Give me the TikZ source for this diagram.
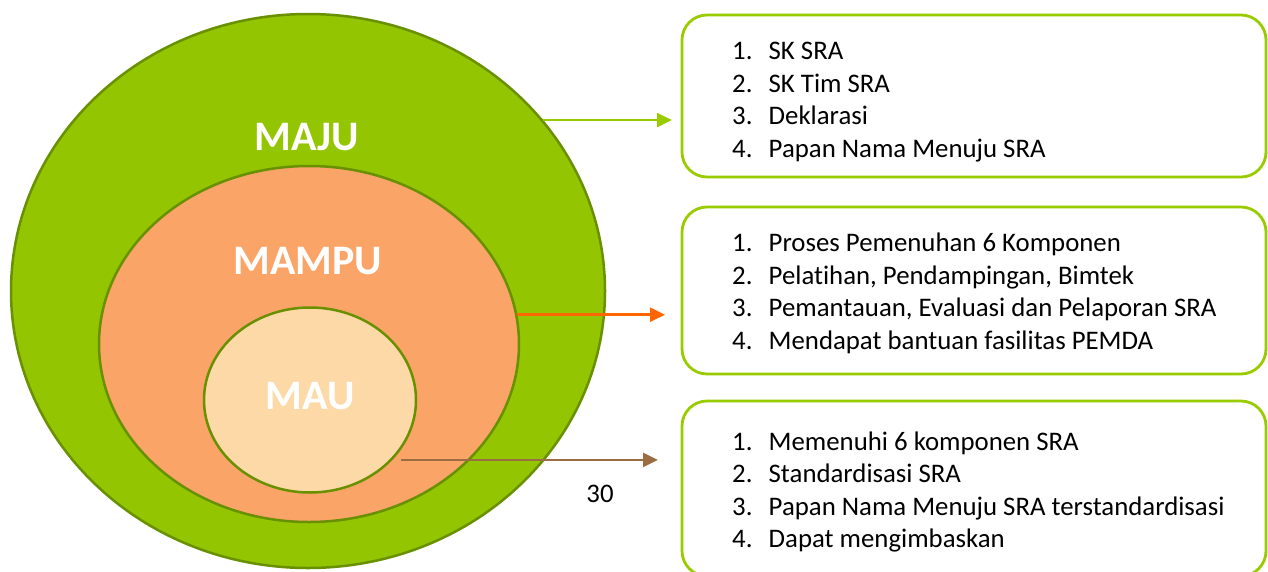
\documentclass[tikz,border=0pt]{standalone}
\usepackage{fontspec}
\setmainfont{Carlito}[Ligatures=NoCommon]
\usetikzlibrary{shapes.geometric,arrows.meta}
\definecolor{hijau}{RGB}{147,197,0}
\definecolor{tepi}{RGB}{104,144,0}
\definecolor{jingga}{RGB}{251,164,104}
\definecolor{krem}{RGB}{253,217,168}
\definecolor{kotakhijau}{RGB}{153,204,0}
\definecolor{oranye}{RGB}{255,102,0}
\definecolor{coklat}{RGB}{156,108,66}
\newcommand{\daftar}[4]{\begin{tabular}{@{}p{36.5pt}@{}l@{}}1. & #1\\2. & #2\\3. & #3\\4. & #4\end{tabular}}
\begin{document}
\begin{tikzpicture}[x=1pt,y=-1pt,
  lingkar/.style={draw=tepi,line width=2.5pt,ellipse,inner sep=0pt},
  judul/.style={text=white,font=\fontsize{42}{50}\selectfont\bfseries},
  kotak/.style={draw=kotakhijau,line width=2.8pt,rounded corners=25pt,minimum width=584pt,inner sep=0pt},
  isi/.style={anchor=west,inner sep=0pt,font=\fontsize{26.8}{32.5}\selectfont},
  panah/.style={->,>={Triangle[length=15pt,width=14pt]},line width=2.5pt}]
\useasboundingbox (0,0) rectangle (1268,571);
\node[lingkar,fill=hijau,minimum width=594pt,minimum height=554pt] (E0) at (308,291) {};
\node[lingkar,fill=jingga,minimum width=420pt,minimum height=356pt] (E1) at (309,344) {};
\node[lingkar,fill=krem,minimum width=212pt,minimum height=185pt] (E2) at (310,400) {};
\node[judul] (J0) at (307,137) {MAJU};
\node[judul] (J1) at (308,261) {MAMPU};
\node[judul] (J2) at (310,396) {MAU};
\node[kotak,minimum height=162pt] (K1) at (974,96) {};
\node[kotak,minimum height=167pt] (K2) at (974,290.5) {};
\node[kotak,minimum height=175pt] (K3) at (974,488.5) {};
\node[isi] (T1) at (732,102) {\daftar{SK SRA}{SK Tim SRA}{Deklarasi}{Papan Nama Menuju SRA}};
\node[isi] (T2) at (732,294) {\daftar{Proses Pemenuhan 6 Komponen}{Pelatihan, Pendampingan, Bimtek}{Pemantauan, Evaluasi dan Pelaporan SRA}{Mendapat bantuan fasilitas PEMDA}};
\node[isi] (T3) at (732,492.5) {\daftar{Memenuhi 6 komponen SRA}{Standardisasi SRA}{Papan Nama Menuju SRA terstandardisasi}{Dapat mengimbaskan}};
\node[font=\fontsize{26.8}{32.5}\selectfont] (N) at (600,494) {30};
\coordinate (U1) at (672,0);
\coordinate (U2) at (665,0);
\coordinate (U3) at (658,0);
\draw[panah,color=kotakhijau] (E0.36) -- (E0.36 -| U1);
\draw[panah,color=oranye] (E1.8.5) -- (E1.8.5 -| U2);
\draw[panah,color=coklat] ([xshift=9pt]E2.-36) -- (E2.-36 -| U3);
\end{tikzpicture}
\end{document}
